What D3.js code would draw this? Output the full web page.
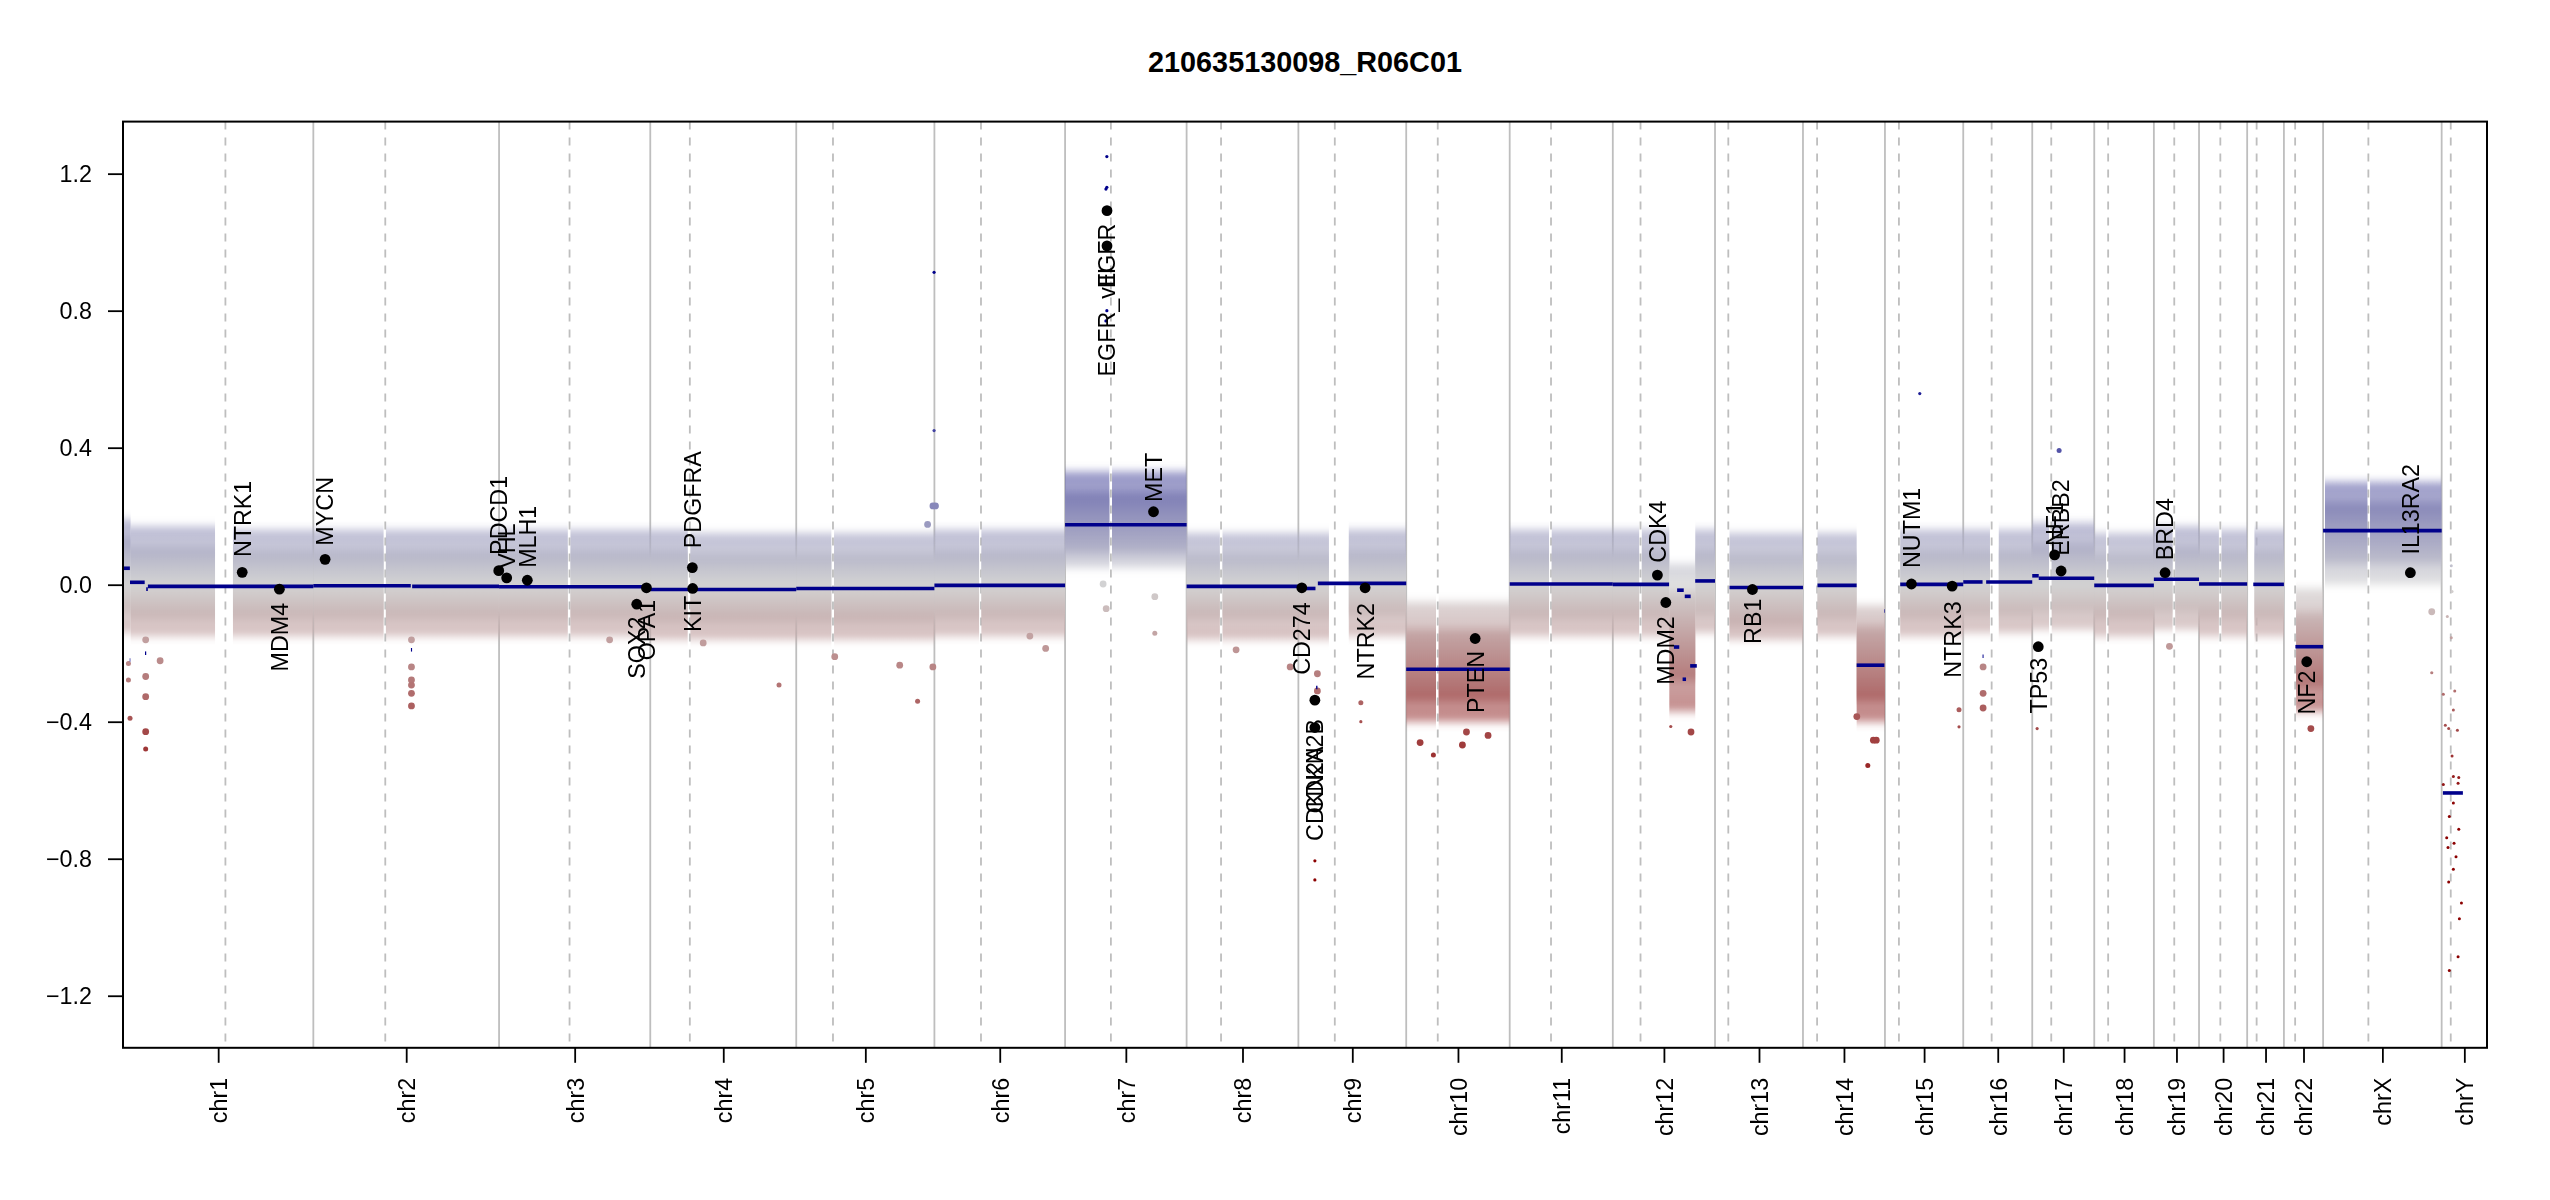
<!DOCTYPE html>
<html>
<head>
<meta charset="utf-8">
<script src="https://cdn.jsdelivr.net/npm/d3@7"></script>
<style>
  body { margin: 0; background: #fff; }
  svg text { font-family: "Liberation Sans", Arial, Helvetica, sans-serif; }
</style>
</head>
<body>
<div id="viz"></div>
<script>
// hg19 layout, sizes and p/q split in Mb
const chromosomes = ['chr1', 'chr2', 'chr3', 'chr4', 'chr5', 'chr6', 'chr7', 'chr8', 'chr9', 'chr10',
  'chr11', 'chr12', 'chr13', 'chr14', 'chr15', 'chr16', 'chr17', 'chr18', 'chr19', 'chr20',
  'chr21', 'chr22', 'chrX', 'chrY'];
const chromSizes = [249.25, 243.20, 198.02, 191.15, 180.92, 171.12, 159.14, 146.36, 141.21, 135.53,
  135.01, 133.85, 115.17, 107.35, 102.53, 90.35, 81.20, 78.08, 59.13, 63.03,
  48.13, 51.30, 155.27, 59.37];
const centromeres = [134.1, 94.2, 92.3, 51.8, 48.1, 61.0, 60.0, 45.1, 47.7, 41.3,
  54.1, 36.3, 17.4, 18.5, 18.3, 37.2, 24.9, 18.2, 26.7, 27.9,
  12.4, 14.7, 59.3, 11.9];

const yTicks = [-1.2, -0.8, -0.4, 0, 0.4, 0.8, 1.2];
const sampleName = '210635130098_R06C01';

// segments: chr, start, end, ratio
const segments = [
  ['chr1', 0, 9, 0.048], ['chr1', 9.2, 28.4, 0.007], ['chr1', 8.8, 9.6, -0.22],
  ['chr1', 28.8, 30.4, -0.20], ['chr1', 30.4, 32.5, -0.013], ['chr1', 32.6, 249.25, -0.005],
  ['chr2', 0, 127.6, -0.003], ['chr2', 127.8, 129.3, -0.19], ['chr2', 129.4, 243.2, -0.005],
  ['chr3', 0, 198.02, -0.006],
  ['chr4', 0, 191.15, -0.014],
  ['chr5', 0, 180.92, -0.011],
  ['chr6', 0, 171.12, -0.002],
  ['chr7', 0, 159.14, 0.175],
  ['chr8', 0, 146.36, -0.005],
  ['chr9', 0, 22.4, -0.011], ['chr9', 23.2, 25.0, -0.30], ['chr9', 25.5, 141.21, 0.004],
  ['chr10', 0, 135.53, -0.247],
  ['chr11', 0, 135.01, 0.002],
  ['chr12', 0, 73.7, 0.001], ['chr12', 80, 87, -0.182], ['chr12', 84.2, 92.9, -0.016],
  ['chr12', 94.2, 102, -0.034], ['chr12', 91.4, 95.9, -0.276], ['chr12', 101.3, 110, -0.237],
  ['chr12', 107.9, 133.85, 0.011],
  ['chr13', 19, 115.17, -0.008],
  ['chr14', 19, 70.3, -0.002], ['chr14', 70.3, 106.6, -0.235], ['chr14', 106.6, 107.35, -0.077],
  ['chr15', 20, 102.53, 0.001],
  ['chr16', 0, 25.3, 0.008], ['chr16', 25.3, 26.6, -0.209], ['chr16', 30, 90.35, 0.008],
  ['chr17', 0, 8.5, 0.026], ['chr17', 8.5, 81.2, 0.019],
  ['chr18', 0, 78.08, -0.002],
  ['chr19', 0, 59.13, 0.016],
  ['chr20', 0, 63.03, 0.002],
  ['chr21', 8, 48.13, 0.001],
  ['chr22', 15, 51.3, -0.181],
  ['chrX', 0, 155.27, 0.158],
  ['chrY', 1.6, 27.8, -0.608]
];

// bin cloud: chr, from, to, sparse top, dense top, dense bottom, sparse bottom
const binEnvelope = [
  ['chr1', 0.8, 10, 0.19, 0.14, -0.08, -0.14],
  ['chr1', 10, 120.5, 0.17, 0.11, -0.10, -0.15],
  ['chr1', 144, 249, 0.16, 0.10, -0.10, -0.15],
  ['chr2', 0, 92, 0.16, 0.10, -0.10, -0.15],
  ['chr2', 95, 243, 0.16, 0.10, -0.10, -0.15],
  ['chr3', 0, 90, 0.16, 0.10, -0.10, -0.15],
  ['chr3', 93.5, 198, 0.16, 0.10, -0.10, -0.15],
  ['chr4', 0, 49, 0.16, 0.10, -0.11, -0.16],
  ['chr4', 52.5, 191, 0.15, 0.09, -0.11, -0.16],
  ['chr5', 0, 46, 0.15, 0.09, -0.11, -0.16],
  ['chr5', 49.5, 180.9, 0.15, 0.09, -0.11, -0.16],
  ['chr6', 0, 58.5, 0.16, 0.10, -0.10, -0.15],
  ['chr6', 61.5, 171, 0.16, 0.10, -0.10, -0.15],
  ['chr7', 0, 58, 0.33, 0.27, 0.09, 0.05],
  ['chr7', 61.5, 159, 0.33, 0.27, 0.09, 0.05],
  ['chr8', 0, 43.5, 0.15, 0.09, -0.10, -0.16],
  ['chr8', 47, 146.3, 0.15, 0.09, -0.10, -0.16],
  ['chr9', 0, 40, 0.15, 0.09, -0.10, -0.16],
  ['chr9', 66, 141.1, 0.16, 0.10, -0.09, -0.15],
  ['chr10', 0, 39, -0.05, -0.13, -0.34, -0.40],
  ['chr10', 42.5, 135.5, -0.05, -0.13, -0.34, -0.40],
  ['chr11', 0, 51.5, 0.16, 0.10, -0.10, -0.15],
  ['chr11', 55, 135, 0.16, 0.10, -0.10, -0.15],
  ['chr12', 0, 34.5, 0.16, 0.10, -0.10, -0.15],
  ['chr12', 38, 74, 0.16, 0.10, -0.10, -0.15],
  ['chr12', 74, 108, 0.06, -0.02, -0.28, -0.37],
  ['chr12', 108, 133.8, 0.16, 0.10, -0.09, -0.14],
  ['chr13', 19, 115.1, 0.15, 0.09, -0.12, -0.16],
  ['chr14', 19, 70.3, 0.15, 0.09, -0.10, -0.15],
  ['chr14', 70.3, 107.3, -0.06, -0.12, -0.34, -0.40],
  ['chr15', 20, 102.5, 0.16, 0.10, -0.10, -0.15],
  ['chr16', 0, 35, 0.16, 0.10, -0.09, -0.14],
  ['chr16', 46.5, 90.3, 0.16, 0.10, -0.09, -0.14],
  ['chr17', 0, 22, 0.18, 0.12, -0.08, -0.13],
  ['chr17', 25.5, 81.2, 0.18, 0.12, -0.08, -0.13],
  ['chr18', 0, 15.5, 0.15, 0.09, -0.10, -0.15],
  ['chr18', 18.5, 78, 0.15, 0.09, -0.10, -0.15],
  ['chr19', 0, 24.5, 0.17, 0.11, -0.08, -0.13],
  ['chr19', 28, 59.1, 0.17, 0.11, -0.08, -0.13],
  ['chr20', 0, 26, 0.16, 0.10, -0.10, -0.15],
  ['chr20', 29.5, 63, 0.16, 0.10, -0.10, -0.15],
  ['chr21', 9.5, 48.1, 0.16, 0.10, -0.10, -0.15],
  ['chr22', 16, 51.3, -0.01, -0.08, -0.30, -0.37],
  ['chrX', 2.5, 58, 0.30, 0.24, 0.06, 0.00],
  ['chrX', 61.5, 155, 0.30, 0.24, 0.06, 0.00]
];

// single bins outside the cloud: chr, position, ratio
const outlierBins = [
  ['chr1', 7.1, -0.278], ['chr1', 7.1, -0.23], ['chr1', 9.2, -0.39],
  ['chr1', 29.7, -0.161], ['chr1', 29.7, -0.268], ['chr1', 29.7, -0.327], ['chr1', 29.7, -0.429],
  ['chr1', 29.7, -0.48], ['chr1', 48.6, -0.222],
  ['chr2', 128.5, -0.161], ['chr2', 128.5, -0.24], ['chr2', 128.5, -0.278], ['chr2', 128.5, -0.293],
  ['chr2', 128.5, -0.317], ['chr2', 128.5, -0.354],
  ['chr3', 144.8, -0.161],
  ['chr4', 69.3, -0.17], ['chr4', 168.6, -0.293],
  ['chr5', 50.4, -0.21], ['chr5', 135.5, -0.235], ['chr5', 158.9, -0.34], ['chr5', 178.9, -0.24],
  ['chr5', 172, 0.176], ['chr5', 179, 0.23], ['chr5', 180.5, 0.912], ['chr5', 180.5, 0.45],
  ['chr6', 1.4, 0.23], ['chr6', 125, -0.15], ['chr6', 145.7, -0.186],
  ['chr7', 49.8, 0.002], ['chr7', 53.8, -0.07], ['chr7', 117.5, -0.035], ['chr7', 117.5, -0.142],
  ['chr7', 54.7, 1.25], ['chr7', 53.5, 1.155], ['chr7', 54.7, 1.16], ['chr7', 54.7, 0.80], ['chr7', 53.5, 0.77],
  ['chr8', 64.8, -0.19], ['chr8', 135.6, -0.24],
  ['chr9', 24.9, -0.26], ['chr9', 24.9, -0.31], ['chr9', 21.6, -0.806], ['chr9', 21.6, -0.862],
  ['chr9', 81.8, -0.345], ['chr9', 81.8, -0.40],
  ['chr10', 18.2, -0.461], ['chr10', 35.6, -0.497], ['chr10', 73.6, -0.468],
  ['chr10', 78.9, -0.43], ['chr10', 107.2, -0.44],
  ['chr12', 75.9, -0.414], ['chr12', 102.4, -0.43],
  ['chr14', 70.5, -0.385], ['chr14', 84.9, -0.528], ['chr14', 92.2, -0.454], ['chr14', 96, -0.454],
  ['chr15', 45.6, 0.558], ['chr15', 97, -0.365], ['chr15', 97, -0.415],
  ['chr16', 26, -0.24], ['chr16', 26, -0.317], ['chr16', 26, -0.36],
  ['chr17', 6.4, -0.42], ['chr17', 35.2, 0.392],
  ['chr19', 20.4, -0.18],
  ['chr22', 35.3, -0.42],
  ['chrX', 142.3, -0.079], ['chrX', 142.3, -0.257],
  ['chrY', 2.2, -0.32], ['chrY', 17.1, -0.31], ['chrY', 15.3, -0.366], ['chrY', 4.8, -0.41],
  ['chrY', 9.2, -0.42], ['chrY', 20.6, -0.425], ['chrY', 13.6, -0.50], ['chrY', 2.2, -0.583],
  ['chrY', 15.3, -0.56], ['chrY', 22.4, -0.563], ['chrY', 21.5, -0.58], ['chrY', 15.3, -0.637],
  ['chrY', 10.0, -0.677], ['chrY', 22.4, -0.714], ['chrY', 6.6, -0.739], ['chrY', 16.2, -0.755],
  ['chrY', 8.3, -0.767], ['chrY', 18.8, -0.794], ['chrY', 15.3, -0.831], ['chrY', 9.2, -0.868],
  ['chrY', 25.9, -0.929], ['chrY', 23.2, -0.975], ['chrY', 21.5, -1.086], ['chrY', 10.0, -1.126],
  ['chrY', 12.6, -0.155], ['chrY', 7.4, -0.093], ['chrY', 13.6, -0.02], ['chrY', 12.6, 0.055]
];

// detail genes
const geneNames = ['NTRK1', 'MDM4', 'MYCN', 'PDCD1', 'VHL', 'MLH1', 'SOX2', 'OPA1', 'PDGFRA', 'KIT',
  'EGFR', 'EGFR_vIII', 'MET', 'CD274', 'CDKN2A', 'CDKN2B', 'NTRK2', 'PTEN', 'CDK4', 'MDM2',
  'RB1', 'NUTM1', 'NTRK3', 'TP53', 'NF1', 'ERBB2', 'BRD4', 'NF2', 'IL13RA2'];
const geneChr = ['chr1', 'chr1', 'chr2', 'chr2', 'chr3', 'chr3', 'chr3', 'chr3', 'chr4', 'chr4',
  'chr7', 'chr7', 'chr7', 'chr9', 'chr9', 'chr9', 'chr9', 'chr10', 'chr12', 'chr12',
  'chr13', 'chr15', 'chr15', 'chr17', 'chr17', 'chr17', 'chr19', 'chr22', 'chrX'];
const genePos = [156.1, 204.8, 15.4, 242.8, 10.0, 37.0, 180.3, 193.0, 55.1, 55.5,
  54.9, 54.9, 115.8, 4.5, 21.6, 21.6, 87.4, 90.3, 58.4, 69.4,
  49.0, 34.7, 88.0, 7.9, 29.3, 37.8, 14.7, 29.9, 114.3];
const geneRatio = [0.036, -0.013, 0.074, 0.041, 0.020, 0.013, -0.057, -0.009, 0.050, -0.011,
  1.092, 0.989, 0.213, -0.009, -0.417, -0.337, -0.009, -0.157, 0.028, -0.052,
  -0.014, 0.002, -0.004, -0.181, 0.087, 0.040, 0.035, -0.225, 0.035];

const width = 2550;
const height = 1200;
const margin = { top: 121.6, right: 63, bottom: 152.2, left: 123 };
const ylim = 1.3;

const offsets = {};
let acc = 0;
chromosomes.forEach((c, i) => { offsets[c] = acc; acc += chromSizes[i]; });
const genomeSize = acc;
const gx = (chr, pos) => offsets[chr] + pos;

const x = d3.scaleLinear()
  .domain([0, genomeSize])
  .range([margin.left, width - margin.right]);
const y = d3.scaleLinear()
  .domain([-ylim * 1.04, ylim * 1.04])
  .range([height - margin.bottom, margin.top]);

const ratioColor = d3.scaleLinear()
  .domain([-ylim, -ylim / 2, 0, ylim / 2, ylim])
  .range(['darkred', 'darkred', 'lightgrey', 'darkblue', 'darkblue'])
  .interpolate(d3.interpolateRgb)
  .clamp(true);

const svg = d3.select('#viz')
  .append('svg')
  .attr('width', width)
  .attr('height', height);

const defs = svg.append('defs');
const grad = defs.append('linearGradient')
  .attr('id', 'ratioGrad')
  .attr('gradientUnits', 'userSpaceOnUse')
  .attr('x1', 0).attr('x2', 0)
  .attr('y1', y(ylim)).attr('y2', y(-ylim));
d3.range(0, 41).forEach(k => {
  const v = ylim - (2 * ylim * k) / 40;
  grad.append('stop')
    .attr('offset', k / 40)
    .attr('stop-color', ratioColor(v));
});
// soften the top and bottom of the bin cloud
defs.append('filter')
  .attr('id', 'soft')
  .attr('x', '-2%').attr('y', '-20%').attr('width', '104%').attr('height', '140%')
  .append('feGaussianBlur')
  .attr('stdDeviation', '0.6 4');

// title
svg.append('text')
  .attr('x', (x.range()[0] + x.range()[1]) / 2)
  .attr('y', 71.5)
  .attr('text-anchor', 'middle')
  .attr('font-weight', 'bold')
  .attr('font-size', 28.8)
  .text(sampleName);

// chromosome boundaries and centromeres
const ends = chromosomes.map((c, i) => offsets[c] + chromSizes[i]).slice(0, -1);
svg.selectAll('.chrEnd')
  .data(ends)
  .enter()
  .append('line')
  .attr('x1', d => x(d)).attr('x2', d => x(d))
  .attr('y1', y.range()[1]).attr('y2', y.range()[0])
  .attr('stroke', '#bebebe')
  .attr('stroke-width', 1.8);

svg.selectAll('.cen')
  .data(chromosomes)
  .enter()
  .append('line')
  .attr('x1', (d, i) => x(offsets[d] + centromeres[i]))
  .attr('x2', (d, i) => x(offsets[d] + centromeres[i]))
  .attr('y1', y.range()[1]).attr('y2', y.range()[0])
  .attr('stroke', '#bebebe')
  .attr('stroke-width', 1.8)
  .attr('stroke-dasharray', '8,8');

// bin cloud: sparse fringe then dense core
const cloud = svg.append('g')
  .attr('fill', 'url(#ratioGrad)')
  .attr('filter', 'url(#soft)');
cloud.selectAll('.outer')
  .data(binEnvelope)
  .enter()
  .append('rect')
  .attr('x', d => x(gx(d[0], d[1])))
  .attr('width', d => x(gx(d[0], d[2])) - x(gx(d[0], d[1])))
  .attr('y', d => y(d[3]))
  .attr('height', d => y(d[6]) - y(d[3]))
  .attr('opacity', 0.7);
cloud.selectAll('.inner')
  .data(binEnvelope)
  .enter()
  .append('rect')
  .attr('x', d => x(gx(d[0], d[1])))
  .attr('width', d => x(gx(d[0], d[2])) - x(gx(d[0], d[1])))
  .attr('y', d => y(d[4]))
  .attr('height', d => y(d[5]) - y(d[4]));

const segAt = (chr, pos) => {
  const s = segments.find(d => d[0] === chr && pos >= d[1] && pos <= d[2]);
  return s ? s[3] : 0;
};

svg.selectAll('.bin')
  .data(outlierBins)
  .enter()
  .append('circle')
  .attr('cx', d => x(gx(d[0], d[1])))
  .attr('cy', d => y(Math.max(-ylim, Math.min(ylim, d[2]))))
  .attr('r', d => {
    if (d[0] === 'chrY') return 1.5;
    const dev = Math.abs(d[2] - segAt(d[0], d[1]));
    return dev < 0.25 ? 3.4 : dev < 0.4 ? 2.5 : 1.6;
  })
  .attr('fill', d => ratioColor(d[2]));

// segments
svg.selectAll('.seg')
  .data(segments)
  .enter()
  .append('line')
  .attr('x1', d => x(gx(d[0], d[1])))
  .attr('x2', d => x(gx(d[0], d[2])))
  .attr('y1', d => y(d[3]))
  .attr('y2', d => y(d[3]))
  .attr('stroke', '#00008b')
  .attr('stroke-width', 3.6);

// genes
const genes = geneNames.map((n, i) => ({ name: n, chr: geneChr[i], pos: genePos[i], ratio: geneRatio[i] }));
svg.selectAll('.gene')
  .data(genes)
  .enter()
  .append('circle')
  .attr('cx', d => x(gx(d.chr, d.pos)))
  .attr('cy', d => y(d.ratio))
  .attr('r', 5.4)
  .attr('fill', '#000');

const labels = svg.selectAll('.geneLabel')
  .data(genes)
  .enter()
  .append('text')
  .attr('transform', d => `translate(${x(gx(d.chr, d.pos))},${y(d.ratio)}) rotate(-90)`)
  .attr('font-size', 23.3)
  .attr('dy', '0.36em')
  .text(d => d.name);
labels.each(function (d) {
  const w = this.getComputedTextLength();
  const above = d.ratio > 0 && d.ratio < 0.8;
  d3.select(this)
    .attr('text-anchor', above ? 'start' : 'end')
    .attr('x', above ? 0.2 * w : -0.2 * w);
});

// box
svg.append('rect')
  .attr('x', x.range()[0])
  .attr('y', y.range()[1])
  .attr('width', x.range()[1] - x.range()[0])
  .attr('height', y.range()[0] - y.range()[1])
  .attr('fill', 'none')
  .attr('stroke', '#000')
  .attr('stroke-width', 2);

// y axis
const yAxis = svg.append('g')
  .attr('transform', `translate(${x.range()[0]},0)`)
  .call(d3.axisLeft(y).tickValues(yTicks).tickSize(15).tickPadding(16)
    .tickFormat(d => d3.format('.1f')(d).replace('-', '\u2212')));
yAxis.select('.domain').remove();
yAxis.selectAll('line').attr('stroke', '#000').attr('stroke-width', 1.8);
yAxis.selectAll('text')
  .attr('font-size', 23.3)
  .attr('font-family', '"Liberation Sans", Arial, sans-serif')
  .attr('fill', '#000');

// x axis at chromosome midpoints
const mids = chromosomes.map((c, i) => offsets[c] + chromSizes[i] / 2);
const xAxis = svg.append('g')
  .attr('transform', `translate(0,${y.range()[0]})`)
  .call(d3.axisBottom(x).tickValues(mids).tickSize(15).tickFormat((d, i) => chromosomes[i]));
xAxis.select('.domain').remove();
xAxis.selectAll('line').attr('stroke', '#000').attr('stroke-width', 1.8);
xAxis.selectAll('text')
  .attr('font-size', 23.3)
  .attr('font-family', '"Liberation Sans", Arial, sans-serif')
  .attr('fill', '#000')
  .attr('transform', 'rotate(-90)')
  .attr('text-anchor', 'end')
  .attr('x', -30)
  .attr('y', 0)
  .attr('dy', '0.36em');
</script>
</body>
</html>
